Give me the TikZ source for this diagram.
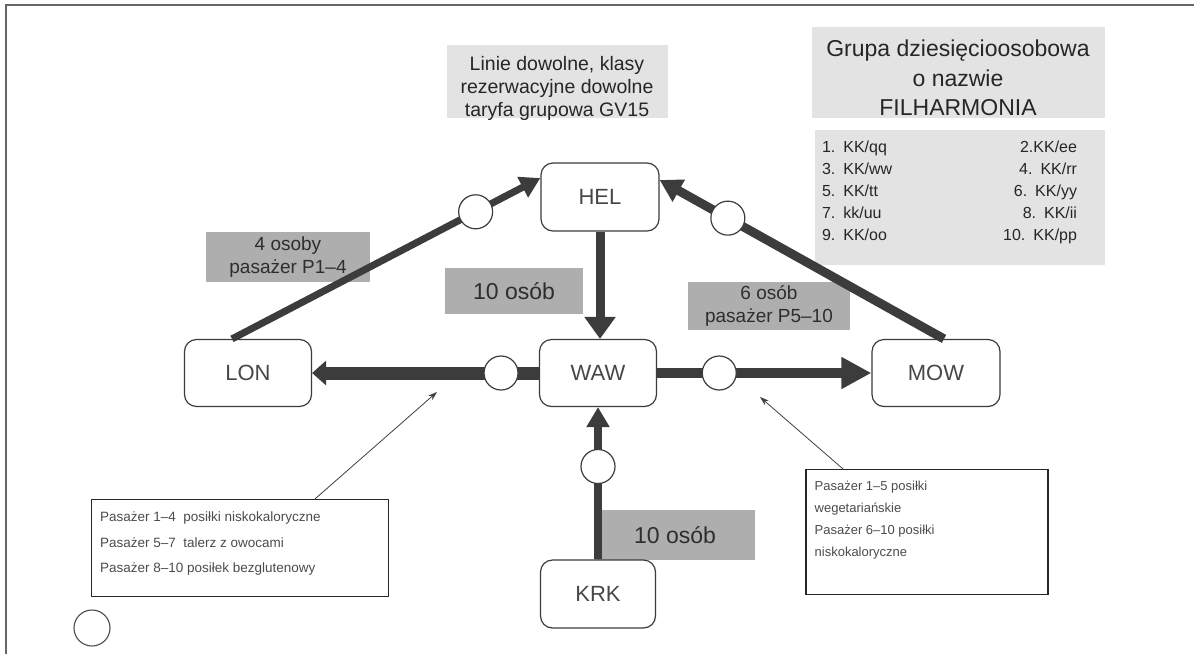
\documentclass[tikz,border=0pt]{standalone}
\usepackage{fontspec}
\setmainfont{Liberation Sans}
\usetikzlibrary{arrows.meta,positioning}
\definecolor{lineg}{HTML}{3C3C3C}
\definecolor{lightbox}{HTML}{E3E3E3}
\definecolor{midbox}{HTML}{AEAEAE}
\begin{document}
\begin{tikzpicture}[x=1pt,y=-1pt,
  city/.style={draw=lineg,line width=1.2pt,rounded corners=12pt,fill=white,font=\fontsize{22}{26}\selectfont,text=black!72},
  topbox/.style={fill=lightbox,inner sep=0pt,align=center,text=black!85},
  lab/.style={fill=midbox,inner sep=0pt,align=center,text=black!82},
  note/.style={draw=black!85,line width=1.1pt,fill=white,inner sep=0pt,align=left,text=black!70},
  notetext/.style={inner sep=0pt,align=left,text=black!70,anchor=north west},
  junc/.style={circle,draw=lineg,line width=1.2pt,fill=white,minimum size=34pt,inner sep=0pt},
  flow/.style={draw=lineg,color=lineg},
  thin/.style={draw=black!75,line width=0.8pt,-{Stealth[length=9pt,width=6pt]}}]
\useasboundingbox (0,0) rectangle (1194,654);
\fill[white] (0,0) rectangle (1194,654);
% frame
\draw[black!60,line width=1.2pt] (6,654) -- (6,5) -- (1194,5);

% information boxes
\node[topbox,minimum width=221pt,minimum height=73pt] (linie) at (557,81) {};
\node[inner sep=0pt,align=center,text=black!85,font=\fontsize{19.5}{23}\selectfont] (linietxt) at ([yshift=-7pt]linie.center)
  {Linie dowolne, klasy\\rezerwacyjne dowolne\\taryfa grupowa GV15};
\node[topbox,minimum width=293pt,minimum height=91pt] (grupa) at (958,72) {};
\node[inner sep=0pt,align=center,text=black!85,font=\fontsize{23}{29.5}\selectfont] (grupatxt) at ([yshift=-6pt]grupa.center)
  {Grupa dziesięcioosobowa\\o nazwie\\FILHARMONIA};
\node[topbox,minimum width=290pt,minimum height=135pt] (lista) at (960,197) {};
\node[inner sep=0pt,align=left,text=black!85,font=\fontsize{16}{22}\selectfont,text width=255pt,anchor=west] (listatxt)
  at ([xshift=7pt,yshift=5pt]lista.west)
  {1. KK/qq\hfill 2.KK/ee\\
   3. KK/ww\hfill 4. KK/rr\\
   5. KK/tt\hfill 6. KK/yy\\
   7. kk/uu\hfill 8. KK/ii\\
   9. KK/oo\hfill 10. KK/pp};

% quantity labels
\node[lab,minimum width=164pt,minimum height=50pt,font=\fontsize{19}{23}\selectfont] (l4) at (288,257) {4 osoby\\pasażer P1–4};
\node[lab,minimum width=138pt,minimum height=46pt,font=\fontsize{23}{26}\selectfont] (l10a) at (514,291) {10 osób};
\node[lab,minimum width=162pt,minimum height=48pt,font=\fontsize{19}{23}\selectfont] (l6) at (769,306) {6 osób\\pasażer P5–10};
\node[lab,minimum width=160pt,minimum height=50pt,font=\fontsize{23}{26}\selectfont] (l10b) at (675,535) {10 osób};

% cities
\node[city,minimum width=118pt,minimum height=68pt] (hel) at (600,197) {HEL};
\node[city,minimum width=127pt,minimum height=67pt] (lon) at (248,373) {LON};
\node[city,minimum width=117pt,minimum height=67pt] (waw) at (598,373) {WAW};
\node[city,minimum width=128pt,minimum height=67pt] (mow) at (936,373) {MOW};
\node[city,minimum width=115pt,minimum height=68pt] (krk) at (598,594) {KRK};

% flows
\draw[flow,line width=7pt,-{Triangle[length=20pt,width=22pt]}]
  ([xshift=-16pt]lon.north) -- node[junc,pos=0.79]{} ([yshift=19pt]hel.west);
\draw[flow,line width=9pt,-{Triangle[length=22pt,width=24pt]}]
  ([xshift=8pt]mow.north) -- node[junc,pos=0.76]{} ([yshift=17pt]hel.east);
\draw[flow,line width=9pt,-{Triangle[length=22pt,width=30pt]}]
  (hel.south) -- (hel.south |- waw.north);
\draw[flow,line width=13pt,-{Triangle[length=14pt,width=24pt]}]
  (waw.west) -- node[junc,pos=0.167]{} (lon.east);
\draw[flow,line width=10pt,-{Triangle[length=30pt,width=30pt]}]
  (waw.east) -- node[junc,pos=0.29]{} (mow.west);
\draw[flow,line width=8pt,-{Triangle[length=20pt,width=22pt]}]
  (krk.north) -- node[junc,pos=0.61]{} (waw.south);

% notes
\node[note,minimum width=297pt,minimum height=97pt] (lnote) at (240,548) {};
\node[notetext,font=\fontsize{13.5}{25.5}\selectfont] (lnotetxt) at ([xshift=9pt,yshift=-13pt]lnote.north west)
  {Pasażer 1–4\ \ posiłki niskokaloryczne\\Pasażer 5–7\ \ talerz z owocami\\Pasażer 8–10 posiłek bezglutenowy};
\node[note,minimum width=242pt,minimum height=125pt] (rnote) at (927,532) {};
\node[notetext,font=\fontsize{13}{22}\selectfont] (rnotetxt) at ([xshift=9pt,yshift=-12pt]rnote.north west)
  {Pasażer 1–5 posiłki\\wegetariańskie\\Pasażer 6–10 posiłki\\niskokaloryczne};
\coordinate (lp) at (437,392);
\coordinate (rp) at (760,397);
\draw[thin] ([xshift=75pt]lnote.north) -- (lp);
\draw[thin] ([xshift=-84pt]rnote.north) -- (rp);

% lone circle
\node[circle,draw=black!70,line width=1.1pt,minimum size=36pt,inner sep=0pt] (lone) at (92,628) {};
\end{tikzpicture}
\end{document}
